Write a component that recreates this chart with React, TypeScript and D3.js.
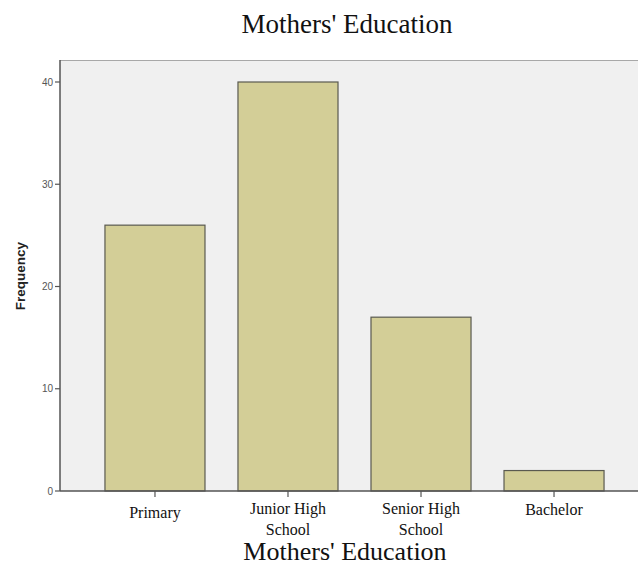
import { useRef, useEffect } from "react";
import * as d3 from "d3";

const categories = ["Primary", "Junior High School", "Senior High School", "Bachelor"];
const labelLines = [["Primary"], ["Junior High", "School"], ["Senior High", "School"], ["Bachelor"]];
const frequencies = [26, 40, 17, 2];
const yTicks = [0, 10, 20, 30, 40];

const App = () => {
  const svgRef = useRef(null);

  useEffect(() => {
    d3.select(svgRef.current).selectAll("*").remove();

    const width = 638;
    const height = 567;
    const left = 60;
    const top = 60;
    const bottom = 491;

    const svg = d3.select(svgRef.current).attr("width", width).attr("height", height);

    const x = d3
      .scaleBand()
      .domain(categories)
      .range([left, 649])
      .paddingInner(0.248)
      .paddingOuter(0.338);

    const y = d3.scaleLinear().domain([0, 40]).range([bottom, 82]);

    // plot background
    svg
      .append("rect")
      .attr("x", left)
      .attr("y", top)
      .attr("width", width - left)
      .attr("height", bottom - top)
      .attr("fill", "#f0f0f0");

    svg
      .append("line")
      .attr("x1", left)
      .attr("x2", width)
      .attr("y1", top + 0.5)
      .attr("y2", top + 0.5)
      .attr("stroke", "#a8a8a8")
      .attr("stroke-width", 1);

    // bars
    svg
      .selectAll("rect.bar")
      .data(frequencies)
      .enter()
      .append("rect")
      .attr("class", "bar")
      .attr("x", (d, i) => x(categories[i]))
      .attr("y", (d) => y(d))
      .attr("width", x.bandwidth())
      .attr("height", (d) => y(0) - y(d))
      .attr("fill", "#d3ce97")
      .attr("stroke", "#5a5a50")
      .attr("stroke-width", 1.2);

    // y axis
    const yAxis = svg.append("g");
    yAxis
      .append("line")
      .attr("x1", left)
      .attr("x2", left)
      .attr("y1", top)
      .attr("y2", bottom)
      .attr("stroke", "#555")
      .attr("stroke-width", 1.5);

    const yt = yAxis.selectAll("g.tick").data(yTicks).enter().append("g");
    yt.append("line")
      .attr("x1", left - 5)
      .attr("x2", left)
      .attr("y1", (d) => y(d))
      .attr("y2", (d) => y(d))
      .attr("stroke", "#555")
      .attr("stroke-width", 1.2);
    yt.append("text")
      .attr("x", left - 7)
      .attr("y", (d) => y(d))
      .attr("dy", "0.35em")
      .attr("text-anchor", "end")
      .style("font-family", "'Liberation Sans', Arial, sans-serif")
      .style("font-size", "10px")
      .style("fill", "#555")
      .text((d) => d);

    svg
      .append("text")
      .attr("transform", `translate(25,276) rotate(-90)`)
      .attr("text-anchor", "middle")
      .style("font-family", "'Liberation Sans', Arial, sans-serif")
      .style("font-size", "13.5px")
      .style("font-weight", "bold")
      .style("fill", "#222")
      .text("Frequency");

    // x axis
    svg
      .append("line")
      .attr("x1", left)
      .attr("x2", width)
      .attr("y1", bottom)
      .attr("y2", bottom)
      .attr("stroke", "#555")
      .attr("stroke-width", 1.5);

    const xt = svg.selectAll("g.xtick").data(categories).enter().append("g");
    xt.append("line")
      .attr("x1", (d) => x(d) + x.bandwidth() / 2)
      .attr("x2", (d) => x(d) + x.bandwidth() / 2)
      .attr("y1", bottom)
      .attr("y2", bottom + 6)
      .attr("stroke", "#555")
      .attr("stroke-width", 1.2);
    xt.each(function (d, i) {
      const lines = labelLines[i];
      const cx = x(d) + x.bandwidth() / 2;
      const t = d3
        .select(this)
        .append("text")
        .attr("text-anchor", "middle")
        .style("font-family", "'Liberation Serif', 'Times New Roman', serif")
        .style("font-size", "16px")
        .style("fill", "#111");
      const y0 = lines.length === 1 ? (i === 0 ? 518 : 515) : 514;
      lines.forEach((ln, k) => {
        t.append("tspan")
          .attr("x", cx)
          .attr("y", y0 + k * 21)
          .text(ln);
      });
    });

    // titles
    svg
      .append("text")
      .attr("x", 347)
      .attr("y", 33)
      .attr("text-anchor", "middle")
      .style("font-family", "'Liberation Serif', 'Times New Roman', serif")
      .style("font-size", "27px")
      .style("fill", "#111")
      .text("Mothers' Education");

    svg
      .append("text")
      .attr("x", 345)
      .attr("y", 560)
      .attr("text-anchor", "middle")
      .style("font-family", "'Liberation Serif', 'Times New Roman', serif")
      .style("font-size", "26px")
      .style("fill", "#111")
      .text("Mothers' Education");
  }, []);

  return (
    <div style={{ position: "absolute", left: 0, top: 0, background: "#fff" }}>
      <svg ref={svgRef}></svg>
    </div>
  );
};

export default App;
